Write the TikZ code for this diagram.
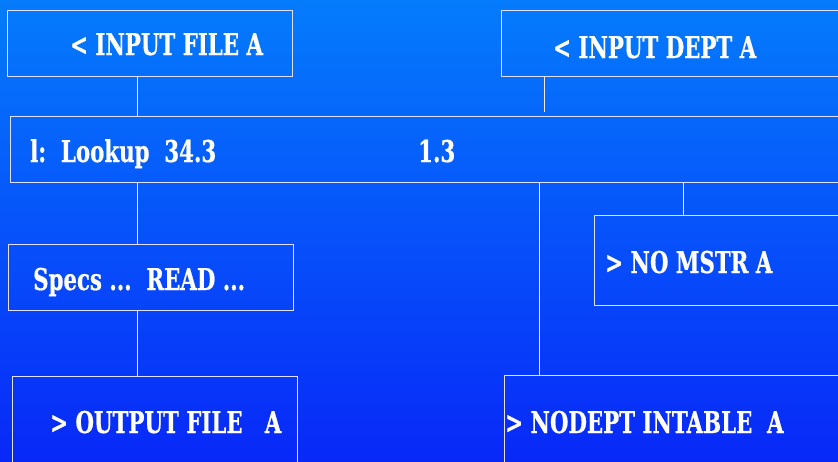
\documentclass[tikz,border=0pt]{standalone}
\usepackage{fontspec}
\newfontfamily\boxfont[FakeStretch=0.71,FakeBold=0.6]{DejaVu Serif}
\begin{document}
\begin{tikzpicture}[x=1pt,y=-1pt,
  box/.style={draw=white!88!blue, line width=1.2pt, rectangle, anchor=north west, inner sep=0pt},
  link/.style={draw=white!92!blue, line width=1pt},
  txt/.style={anchor=base west, inner sep=0pt, text=white, font=\boxfont\bfseries\fontsize{30}{34}\selectfont}
]
  % page and background gradient
  \useasboundingbox (0,0) rectangle (838,461);
  \clip (0,0) rectangle (838,461);
  \shade[top color={rgb,255:red,5;green,124;blue,252}, bottom color={rgb,255:red,8;green,40;blue,248}]
    (0,0) rectangle (838,461);

  % boxes
  \node[box, minimum width=285pt, minimum height=66pt] (infile) at (7,10) {};
  \node[box, minimum width=360pt, minimum height=66pt] (indept) at (501,10) {};
  \node[box, minimum width=840pt, minimum height=66pt] (lookup) at (10,116) {};
  \node[box, minimum width=285pt, minimum height=66pt] (specs) at (8,244) {};
  \node[box, minimum width=260pt, minimum height=90pt] (nomstr) at (594,215) {};
  \node[box, minimum width=285pt, minimum height=100pt] (outfile) at (12,376) {};
  \node[box, minimum width=340pt, minimum height=100pt] (nodept) at (504,375) {};

  % labels
  \node[txt] (t1) at (70,55) {<\ INPUT FILE A};
  \node[txt] (t2) at (553,58) {<\ INPUT DEPT A};
  \node[txt] (t3) at (30,162) {l:\ \ Lookup\ \ 34.3};
  \node[txt] (t4) at (418,162) {1.3};
  \node[txt] (t5) at (33,290) {Specs ...\ \ READ ...};
  \node[txt] (t6) at (605,273) {>\ NO MSTR A};
  \node[txt] (t7) at (50,433) {>\ OUTPUT FILE\ \ \ A};
  \node[txt] (t8) at (505,433) {>\ NODEPT INTABLE\ \ A};

  % connector columns
  \coordinate (c1) at (137,0);
  \coordinate (c2) at (544,0);
  \coordinate (c3) at (539,0);
  \coordinate (c4) at (683,0);

  % connectors
  \draw[link] (infile.south -| c1) -- (lookup.north -| c1);
  \draw[link] (indept.south -| c2) -- ([yshift=4pt]lookup.north -| c2);
  \draw[link] (lookup.south -| c1) -- (specs.north -| c1);
  \draw[link] (specs.south -| c1) -- (outfile.north -| c1);
  \draw[link] (lookup.south -| c3) -- (nodept.north -| c3);
  \draw[link] (lookup.south -| c4) -- (nomstr.north -| c4);
\end{tikzpicture}
\end{document}
